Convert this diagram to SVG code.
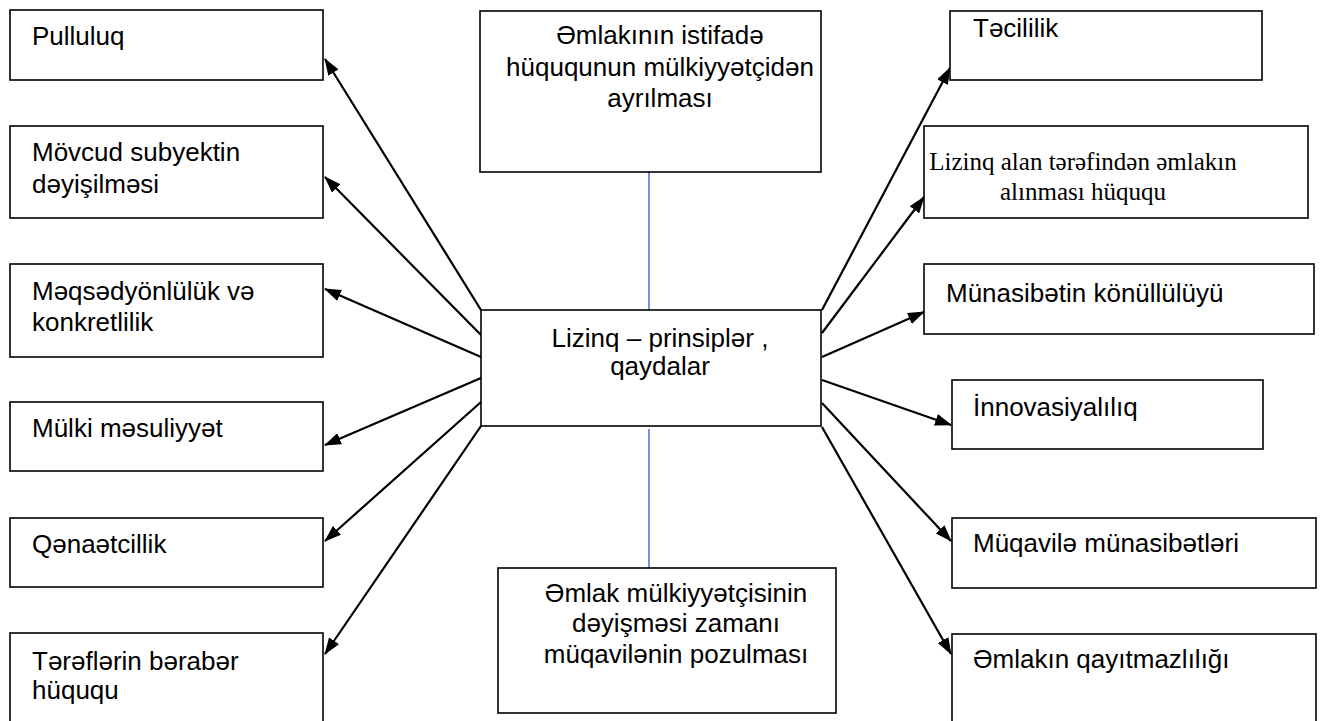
<svg xmlns="http://www.w3.org/2000/svg" width="1326" height="721" viewBox="0 0 1326 721">
<defs>
<style>
.box{fill:#fff;stroke:#000;stroke-width:1.6}
.t{font-family:"Liberation Sans",Arial,sans-serif;font-size:26px;fill:#000}
.tm{font-family:"Liberation Serif","Times New Roman",serif;font-size:25px;fill:#000}
.c{text-anchor:middle}
.arr{stroke:#000;stroke-width:2.2;fill:none;marker-end:url(#ah)}
.blue{stroke:#4472C4;stroke-width:1.5;fill:none}
</style>
<marker id="ah" viewBox="0 0 17 12" refX="16" refY="6" markerWidth="17" markerHeight="12" orient="auto" markerUnits="userSpaceOnUse">
<path d="M0,0 L17,6 L0,12 z" fill="#000"/>
</marker>
</defs>
<rect width="1326" height="721" fill="#fff"/>

<g id="connectors">
<line class="blue" x1="649" y1="172" x2="649" y2="310"/>
<line class="blue" x1="649" y1="429" x2="649" y2="568"/>
<line class="arr" x1="481" y1="310" x2="325" y2="59"/>
<line class="arr" x1="481" y1="335" x2="325" y2="177"/>
<line class="arr" x1="481" y1="357" x2="325" y2="289"/>
<line class="arr" x1="481" y1="378" x2="325" y2="445"/>
<line class="arr" x1="481" y1="402" x2="325" y2="541"/>
<line class="arr" x1="481" y1="426" x2="325" y2="654"/>
<line class="arr" x1="822" y1="310" x2="950" y2="68"/>
<line class="arr" x1="822" y1="333" x2="924" y2="197"/>
<line class="arr" x1="822" y1="357" x2="924" y2="312"/>
<line class="arr" x1="822" y1="380" x2="951" y2="425"/>
<line class="arr" x1="822" y1="403" x2="951" y2="541"/>
<line class="arr" x1="822" y1="427" x2="951" y2="654"/>
</g>

<g id="center">
<rect class="box" x="481" y="310" width="340" height="116"/>
<text class="t c" x="660" y="347">Lizinq – prinsiplər ,</text>
<text class="t c" x="660" y="375">qaydalar</text>
</g>

<g id="top-center">
<rect class="box" x="480" y="11" width="341" height="161"/>
<text class="t c" x="660" y="44">Əmlakının istifadə</text>
<text class="t c" x="660" y="76">hüququnun mülkiyyətçidən</text>
<text class="t c" x="660" y="107">ayrılması</text>
</g>

<g id="bottom-center">
<rect class="box" x="498" y="568" width="338" height="145"/>
<text class="t c" x="676" y="602">Əmlak mülkiyyətçisinin</text>
<text class="t c" x="676" y="632">dəyişməsi zamanı</text>
<text class="t c" x="676" y="663">müqavilənin pozulması</text>
</g>

<g id="pulluluq">
<rect class="box" x="10" y="10" width="313" height="70"/>
<text class="t" x="32" y="45">Pulluluq</text>
</g>
<g id="movcud">
<rect class="box" x="10" y="126" width="313" height="92"/>
<text class="t" x="32" y="161">Mövcud subyektin</text>
<text class="t" x="32" y="193">dəyişilməsi</text>
</g>
<g id="meqsed">
<rect class="box" x="10" y="264" width="313" height="93"/>
<text class="t" x="32" y="300">Məqsədyönlülük və</text>
<text class="t" x="32" y="331">konkretlilik</text>
</g>
<g id="mulki">
<rect class="box" x="10" y="402" width="313" height="69"/>
<text class="t" x="32" y="437">Mülki məsuliyyət</text>
</g>
<g id="qenaet">
<rect class="box" x="10" y="518" width="313" height="69"/>
<text class="t" x="32" y="553">Qənaətcillik</text>
</g>
<g id="teref">
<rect class="box" x="10" y="633" width="313" height="100"/>
<text class="t" x="32" y="670">Tərəflərin bərabər</text>
<text class="t" x="32" y="699">hüququ</text>
</g>

<g id="tecililik">
<rect class="box" x="950" y="11" width="312" height="69"/>
<text class="t" x="973" y="37">Təcililik</text>
</g>
<g id="lizinq-alan">
<rect class="box" x="924" y="126" width="384" height="92"/>
<text class="tm c" x="1083" y="170">Lizinq alan tərəfindən əmlakın</text>
<text class="tm c" x="1083" y="200">alınması hüququ</text>
</g>
<g id="munasibet">
<rect class="box" x="924" y="264" width="390" height="70"/>
<text class="t" x="946" y="302">Münasibətin könüllülüyü</text>
</g>
<g id="innovasiya">
<rect class="box" x="952" y="380" width="311" height="69"/>
<text class="t" x="973" y="416">İnnovasiyalılıq</text>
</g>
<g id="muqavile">
<rect class="box" x="952" y="518" width="364" height="70"/>
<text class="t" x="973" y="552">Müqavilə münasibətləri</text>
</g>
<g id="qayitmaz">
<rect class="box" x="952" y="634" width="364" height="100"/>
<text class="t" x="973" y="668">Əmlakın qayıtmazlılığı</text>
</g>
</svg>
